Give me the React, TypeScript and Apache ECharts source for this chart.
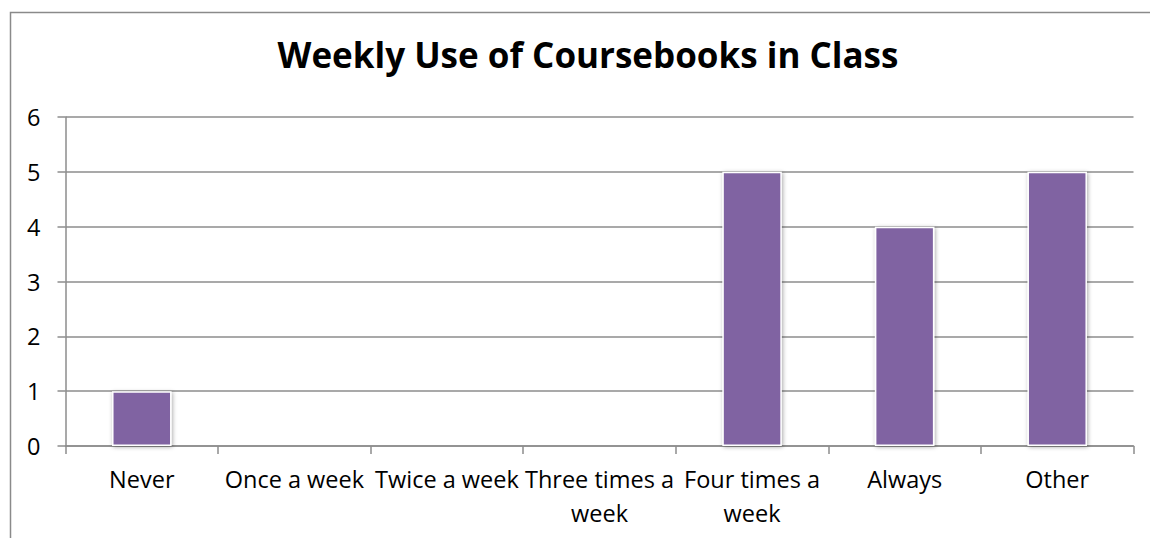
import React, { useEffect, useRef } from "react";
import * as echarts from "echarts";

const categories = [
  "Never",
  "Once a week",
  "Twice a week",
  "Three times a week",
  "Four times a week",
  "Always",
  "Other",
];
const values = [1, 0, 0, 0, 5, 4, 5];
const titleText = "Weekly Use of Coursebooks in Class";
const yMin = 0;
const yMax = 6;
const yInterval = 1;

export default function App() {
  const ref = useRef<HTMLDivElement>(null);
  useEffect(() => {
    if (!ref.current) return;
    const chart = echarts.init(ref.current, null, { renderer: "svg" });
    const font = "'Open Sans', 'Noto Sans', sans-serif";
    chart.setOption({
      animation: false,
      backgroundColor: "#ffffff",
      textStyle: { fontFamily: font },
      graphic: [
        {
          type: "rect",
          shape: { x: 10.5, y: 12.5, width: 1200, height: 600 },
          style: { fill: "none", stroke: "#8a8a8a", lineWidth: 1.5 },
          silent: true,
          z: -1,
        },
        {
          type: "text",
          x: 588,
          y: 37,
          silent: true,
          style: {
            text: titleText,
            fill: "#000000",
            font: "bold 35px 'Open Sans', 'Noto Sans', sans-serif",
            textAlign: "center",
            textVerticalAlign: "top",
          },
        },
      ],
      grid: { left: 65.5, right: 16.5, top: 117, bottom: 92, containLabel: false },
      xAxis: {
        type: "category",
        data: categories,
        axisLine: { show: true, lineStyle: { color: "#8c8c8c", width: 1.5 } },
        axisTick: { show: true, alignWithLabel: false, length: 8, lineStyle: { color: "#8c8c8c", width: 1.5 } },
        axisLabel: {
          interval: 0,
          margin: 16,
          color: "#000000",
          fontFamily: font,
          fontSize: 23.5,
          lineHeight: 34,
          formatter: (v: string) => v.replace(/ times a week$/, " times a\nweek"),
        },
      },
      yAxis: {
        type: "value",
        min: yMin,
        max: yMax,
        interval: yInterval,
        axisLine: { show: true, lineStyle: { color: "#8c8c8c", width: 1.5 } },
        axisTick: { show: true, length: 8, lineStyle: { color: "#8c8c8c", width: 1.5 } },
        splitLine: { show: true, lineStyle: { color: "#8c8c8c", width: 1.5 } },
        axisLabel: { color: "#000000", fontFamily: font, fontSize: 23.5, margin: 25 },
      },
      series: [
        {
          type: "bar",
          data: values,
          barWidth: "39%",
          itemStyle: {
            color: "#8064A2",
            borderColor: "#ffffff",
            borderWidth: 1.5,
            shadowColor: "rgba(0,0,0,0.35)",
            shadowBlur: 4,
            shadowOffsetX: 1,
            shadowOffsetY: 1,
          },
        },
      ],
    });
    return () => chart.dispose();
  }, []);
  return (
    <div
      ref={ref}
      style={{ position: "fixed", left: 0, top: 0, width: 1150, height: 538 }}
    />
  );
}
